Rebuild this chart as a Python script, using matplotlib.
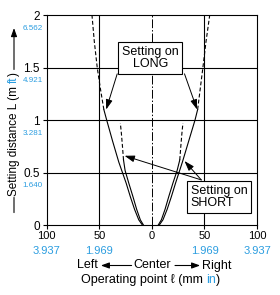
import matplotlib.pyplot as plt

plt.rcParams['font.family'] = ['Liberation Sans', 'DejaVu Sans']

BLUE = '#2b9de0'

# axis ticks (left side of the x axis is mirrored, so labels are absolute)
x_ticks = [-100, -50, 0, 50, 100]
x_mm = ['100', '50', '0', '50', '100']
x_in = ['3.937', '1.969', '', '1.969', '3.937']
y_ticks = [0, 0.5, 1, 1.5, 2]
y_m = ['0', '0.5', '1', '1.5', '2']
y_ft = ['', '1.640', '3.281', '4.921', '6.562']

# Setting on LONG: solid part, dashed part (left / right)
long_l_x = [-9, -12.5, -16.5, -20.5, -24.5, -31.5, -37.4, -40.2, -43, -45.7]
long_l_y = [0, 0.05, 0.15, 0.27, 0.4, 0.6, 0.8, 0.9, 1.0, 1.1]
long_l_dx = [-45.7, -49, -52, -54.8, -57]
long_l_dy = [1.1, 1.3, 1.5, 1.75, 2.0]
long_r_x = [7, 10.5, 14.5, 18.5, 22.5, 29, 35, 38, 41, 43.5]
long_r_y = [0, 0.05, 0.15, 0.27, 0.4, 0.6, 0.8, 0.9, 1.0, 1.1]
long_r_dx = [43.5, 46, 48.5, 51.5, 55]
long_r_dy = [1.1, 1.3, 1.5, 1.75, 2.0]

# Setting on SHORT
short_l_x = [-8, -11, -14.5, -18, -22, -25.5, -27]
short_l_y = [0, 0.05, 0.15, 0.27, 0.4, 0.52, 0.62]
short_l_dx = [-27, -28, -29, -30]
short_l_dy = [0.62, 0.75, 0.87, 0.97]
short_r_x = [6, 9, 12.5, 16, 20, 24, 26.5]
short_r_y = [0, 0.05, 0.15, 0.27, 0.4, 0.52, 0.62]
short_r_dx = [26.5, 27.5, 28.5, 29.5]
short_r_dy = [0.62, 0.75, 0.87, 0.97]

fig = plt.figure(figsize=(2.8, 2.95), dpi=100)
ax = fig.add_axes([0.167, 0.237, 0.751, 0.712])
ax.set_xlim(-100, 100)
ax.set_ylim(0, 2)

for xv in x_ticks[1:-1]:
    if xv == 0:
        ax.axvline(xv, color='black', lw=0.7, ls=(0, (9, 2, 1.5, 2)))
    else:
        ax.axvline(xv, color='black', lw=0.8)
for yv in y_ticks[1:-1]:
    ax.axhline(yv, color='black', lw=0.8)

solid = dict(color='black', lw=0.8)
dashed = dict(color='black', lw=0.8, ls=(0, (3.5, 2)))
ax.plot(long_l_x, long_l_y, **solid)
ax.plot(long_l_dx, long_l_dy, **dashed)
ax.plot(long_r_x, long_r_y, **solid)
ax.plot(long_r_dx, long_r_dy, **dashed)
ax.plot(short_l_x, short_l_y, **solid)
ax.plot(short_l_dx, short_l_dy, **dashed)
ax.plot(short_r_x, short_r_y, **solid)
ax.plot(short_r_dx, short_r_dy, **dashed)

for s in ax.spines.values():
    s.set_linewidth(0.8)

ax.set_xticks(x_ticks)
ax.set_xticklabels(x_mm, fontsize=8)
ax.set_yticks(y_ticks)
ax.set_yticklabels(y_m, fontsize=8.5)
ax.tick_params(direction='out', length=3, width=0.8, pad=1.5)
ax.tick_params(axis='y', pad=2)

for xv, lab in zip(x_ticks, x_in):
    ax.annotate(lab, (xv, 0), xycoords=('data', 'axes fraction'),
                xytext=(0, -15), textcoords='offset points',
                ha='center', va='top', fontsize=8, color=BLUE)
for yv, lab in zip(y_ticks, y_ft):
    ax.annotate(lab, (0, yv), xycoords=('axes fraction', 'data'),
                xytext=(-3, -9.5), textcoords='offset points',
                ha='right', va='center', fontsize=5.8, color=BLUE)

# labels with arrows
box = dict(boxstyle='square,pad=0.3', fc='white', ec='black', lw=0.8)
ax.text(-1.5, 1.59, 'Setting on\nLONG', ha='center', va='center',
        fontsize=9, bbox=box, linespacing=1.05, zorder=5)
arr = dict(arrowstyle='-|>,head_length=0.6,head_width=0.2', color='black',
           lw=0.7, shrinkA=0, shrinkB=0)
ax.annotate('', xy=(-43.5, 1.1), xytext=(-33, 1.44), arrowprops=arr)
ax.annotate('', xy=(43, 1.1), xytext=(31, 1.44), arrowprops=arr)

ax.text(64, 0.27, 'Setting on\nSHORT', ha='center', va='center',
        multialignment='left', fontsize=9, bbox=box, linespacing=1.05,
        zorder=5)
ax.annotate('', xy=(-26, 0.66), xytext=(47, 0.43), arrowprops=arr)
ax.annotate('', xy=(31, 0.61), xytext=(47, 0.43), arrowprops=arr)

# x axis caption
fig.text(0.35, 0.1, 'Left', ha='right', va='center', fontsize=9)
fig.text(0.545, 0.1, 'Center', ha='center', va='center', fontsize=9)
fig.text(0.72, 0.1, 'Right', ha='left', va='center', fontsize=9)
farr = dict(arrowstyle='-|>,head_length=0.5,head_width=0.18', color='black',
            lw=0.8, shrinkA=0, shrinkB=0)
ax.annotate('', xy=(0.36, 0.1), xytext=(0.47, 0.1), xycoords='figure fraction',
            arrowprops=farr, annotation_clip=False)
ax.annotate('', xy=(0.715, 0.1), xytext=(0.625, 0.1), xycoords='figure fraction',
            arrowprops=farr, annotation_clip=False)

fig.canvas.draw()
r = fig.canvas.get_renderer()
inv = fig.transFigure.inverted()

t1 = fig.text(0.29, 0.05, 'Operating point ℓ (mm ', ha='left', va='center', fontsize=9)
e = inv.transform(t1.get_window_extent(r))
t2 = fig.text(e[1][0], 0.05, 'in', ha='left', va='center', fontsize=9, color=BLUE)
e = inv.transform(t2.get_window_extent(r))
fig.text(e[1][0], 0.05, ')', ha='left', va='center', fontsize=9)

# y axis caption (rotated, two colours)
yl = 0.05
ax.annotate('', xy=(yl, 0.34), xytext=(yl, 0.27), xycoords='figure fraction',
            arrowprops=dict(arrowstyle='-', lw=0.8, color='black'),
            annotation_clip=False)
u1 = fig.text(yl, 0.335, 'Setting distance L (m ', rotation=90, ha='center',
              va='bottom', fontsize=8.5)
e = inv.transform(u1.get_window_extent(r))
u2 = fig.text(yl, e[1][1], 'ft', rotation=90, ha='center', va='bottom',
              fontsize=8.5, color=BLUE)
e = inv.transform(u2.get_window_extent(r))
u3 = fig.text(yl, e[1][1], ')', rotation=90, ha='center', va='bottom', fontsize=8.5)
e = inv.transform(u3.get_window_extent(r))
ax.annotate('', xy=(yl, 0.905), xytext=(yl, e[1][1] + 0.01),
            xycoords='figure fraction', arrowprops=farr, annotation_clip=False)

fig.savefig('out.png', dpi=100)
